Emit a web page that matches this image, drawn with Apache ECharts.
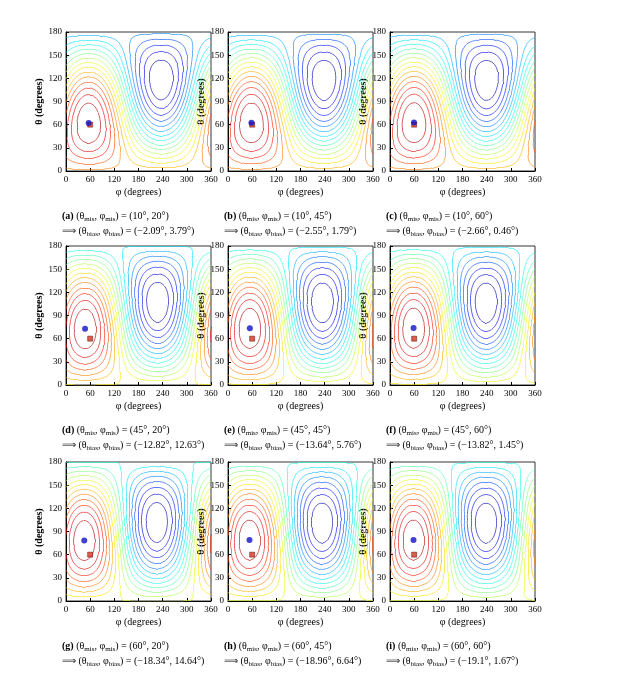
<!DOCTYPE html>
<html><head><meta charset="utf-8">
<script src="https://cdn.jsdelivr.net/npm/echarts@6/dist/echarts.min.js"></script>
<style>html,body{margin:0;background:#fff}#c{width:631px;height:680px}</style>
</head><body><div id="c"></div>
<script>
// panel data
const panelTags = ["(a)","(b)","(c)","(d)","(e)","(f)","(g)","(h)","(i)"];
const thetaMis = [10,10,10,45,45,45,60,60,60];
const phiMis = [20,45,60,20,45,60,20,45,60];
const thetaBias = [-2.09,-2.55,-2.66,-12.82,-13.64,-13.82,-18.34,-18.96,-19.1];
const phiBias = [3.79,1.79,0.46,12.63,5.76,1.45,14.64,6.64,1.67];
const trueTheta = 60, truePhi = 60;
const levels = [-0.9,-0.8,-0.7,-0.6,-0.5,-0.4,-0.3,-0.2,-0.1,0,0.1,0.2,0.3,0.4,0.5,0.6,0.7,0.8,0.9];
const xTicks = [0,60,120,180,240,300,360];
const yTicks = [0,30,60,90,120,150,180];

const lefts = [66,228,390], tops = [32,246,462], W = 145, H = 139;
const rad = Math.PI/180;

function jet(t){ // t in 0..1
  const r = Math.min(1,Math.max(0,1.5-Math.abs(4*t-3)));
  const g = Math.min(1,Math.max(0,1.5-Math.abs(4*t-2)));
  const b = Math.min(1,Math.max(0,1.5-Math.abs(4*t-1)));
  return `rgb(${Math.round(r*255)},${Math.round(g*255)},${Math.round(b*255)})`;
}

function contours(th0, ph0){
  const step = 4, nx = 360/step+1, ny = 180/step+1, v = [];
  for (let j=0;j<ny;j++){ v[j]=[]; for (let i=0;i<nx;i++){
    const th=j*step*rad, ph=i*step*rad;
    v[j][i]=Math.sin(th)*Math.sin(th0*rad)*Math.cos(ph-ph0*rad)+Math.cos(th)*Math.cos(th0*rad);
  }}
  const out = {};
  levels.forEach(L=>{
    const segs=[];
    for (let j=0;j<ny-1;j++) for (let i=0;i<nx-1;i++){
      const c=[[i,j],[i+1,j],[i+1,j+1],[i,j+1]], pts=[];
      for (let k=0;k<4;k++){
        const a=c[k], b=c[(k+1)%4], va=v[a[1]][a[0]]-L, vb=v[b[1]][b[0]]-L;
        if ((va<0)!==(vb<0)){
          const t=va/(va-vb);
          pts.push([(a[0]+t*(b[0]-a[0]))*step,(a[1]+t*(b[1]-a[1]))*step]);
        }
      }
      if (pts.length>=2) segs.push({coords:[pts[0],pts[1]]});
      if (pts.length===4) segs.push({coords:[pts[2],pts[3]]});
    }
    out[L]=segs;
  });
  return out;
}

const grid=[], xAxis=[], yAxis=[], series=[], graphic=[];
const font='Liberation Serif';
for (let p=0;p<9;p++){
  const r=Math.floor(p/3), c=p%3;
  grid.push({left:lefts[c],top:tops[r],width:W,height:H,show:true,borderColor:'#000',borderWidth:0.8});
  xAxis.push({gridIndex:p,type:'value',min:0,max:360,interval:60,name:'φ (degrees)',nameLocation:'middle',nameGap:16,
    nameTextStyle:{fontFamily:font,fontSize:10,color:'#000'},
    axisLine:{lineStyle:{color:'#000'}},axisTick:{inside:true,length:3},splitLine:{show:false},
    axisLabel:{fontFamily:font,fontSize:9,color:'#000',margin:4}});
  yAxis.push({gridIndex:p,type:'value',min:0,max:180,interval:30,name:'θ (degrees)',nameLocation:'middle',nameGap:19,
    nameTextStyle:{fontFamily:font,fontSize:10,color:'#000',fontWeight:'bold'},
    axisLine:{show:true,lineStyle:{color:'#000'}},axisTick:{inside:true,length:3},splitLine:{show:false},
    axisLabel:{fontFamily:font,fontSize:9,color:'#000',margin:4}});
  const estTh=trueTheta-thetaBias[p], estPh=truePhi-phiBias[p];
  const cs=contours(estTh,estPh);
  levels.forEach(L=>{
    series.push({type:'lines',coordinateSystem:'cartesian2d',xAxisIndex:p,yAxisIndex:p,polyline:false,silent:true,
      lineStyle:{color:jet((L+1)/2),width:0.7,opacity:0.9},data:cs[L]});
  });
  series.push({type:'scatter',xAxisIndex:p,yAxisIndex:p,symbol:'rect',symbolSize:5,
    itemStyle:{color:'#d8341f',borderColor:'#500',borderWidth:0.6},data:[[truePhi,trueTheta]],z:5});
  series.push({type:'scatter',xAxisIndex:p,yAxisIndex:p,symbol:'circle',symbolSize:6,
    itemStyle:{color:'#1010c8'},data:[[estPh,estTh]],z:6});
  const fmt=x=>(x<0?'−'+(-x):''+x);
  graphic.push({type:'text',left:lefts[c]-4,top:tops[r]+H+38,style:{
    text:`{b|${panelTags[p]}} (θ{s|mis}, φ{s|mis}) = (${thetaMis[p]}°, ${phiMis[p]}°)\n⟹ (θ{s|bias}, φ{s|bias}) = (${fmt(thetaBias[p])}°, ${fmt(phiBias[p])}°)`,
    fontFamily:font,fontSize:10,fill:'#000',lineHeight:15,
    rich:{b:{fontWeight:'bold',fontFamily:font,fontSize:10},s:{fontSize:7,fontFamily:font,padding:[6,0,0,0]}}}});
}
const chart=echarts.init(document.getElementById('c'));
chart.setOption({animation:false,grid,xAxis,yAxis,series,graphic});
</script></body></html>
